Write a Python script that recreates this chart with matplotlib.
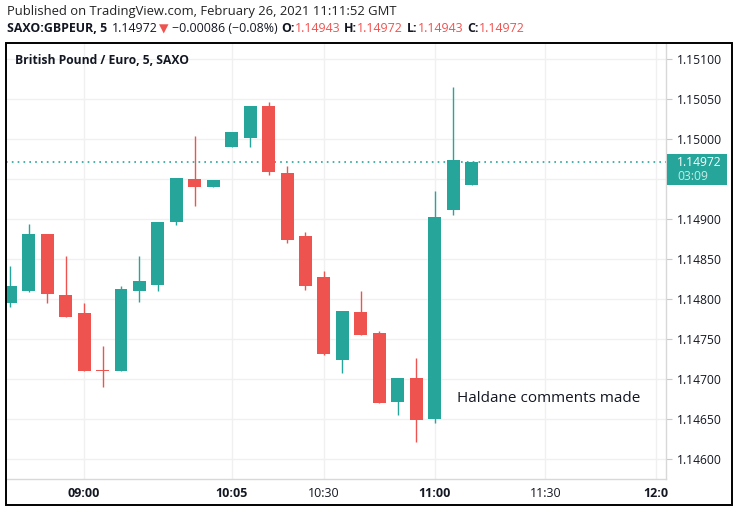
import matplotlib
matplotlib.use("Agg")
import matplotlib.pyplot as plt
from matplotlib.patches import Rectangle

# ----------------------------------------------------------------------
# Data: GBP/EUR 5-minute candles (SAXO)
# ----------------------------------------------------------------------
opens = [1.14796, 1.14810, 1.14882, 1.14806, 1.14783, 1.14712, 1.14710, 1.14811,
         1.14818, 1.14897, 1.14951, 1.14941, 1.14991, 1.15002, 1.15042, 1.14958,
         1.14879, 1.14828, 1.14724, 1.14784, 1.14758, 1.14672, 1.14702, 1.14651,
         1.14912, 1.14943]
highs = [1.14842, 1.14894, 1.14882, 1.14854, 1.14796, 1.14742, 1.14817, 1.14854,
         1.14897, 1.14952, 1.15004, 1.14949, 1.15009, 1.15042, 1.15047, 1.14967,
         1.14884, 1.14836, 1.14786, 1.14811, 1.14761, 1.14702, 1.14727, 1.14936,
         1.15066, 1.14972]
lows = [1.14791, 1.14809, 1.14795, 1.14778, 1.14711, 1.14691, 1.14710, 1.14797,
        1.14810, 1.14893, 1.14917, 1.14941, 1.14991, 1.14991, 1.14955, 1.14871,
        1.14812, 1.14731, 1.14708, 1.14756, 1.14670, 1.14655, 1.14622, 1.14646,
        1.14905, 1.14943]
closes = [1.14817, 1.14882, 1.14807, 1.14778, 1.14711, 1.14710, 1.14813, 1.14823,
          1.14897, 1.14952, 1.14941, 1.14949, 1.15009, 1.15042, 1.14959, 1.14874,
          1.14817, 1.14732, 1.14786, 1.14756, 1.14670, 1.14702, 1.14649, 1.14903,
          1.14974, 1.14972]

tick_index = [4, 12, 17, 23, 29, 35]
tick_labels = ["09:00", "10:05", "10:30", "11:00", "11:30", "12:0"]
tick_bold = [True, True, False, True, False, True]
price_ticks = [1.14600, 1.14650, 1.14700, 1.14750, 1.14800, 1.14850,
               1.14900, 1.14950, 1.15000, 1.15050, 1.15100]
last_price = 1.14972

UP = "#26a69a"
DOWN = "#ef5350"
TEXT = "#131722"
GRID = "#f0f0f0"
FONT = "Open Sans"

W, H = 738, 512
fig = plt.figure(figsize=(W / 100, H / 100), dpi=100)
plt.rcParams["font.family"] = [FONT, "DejaVu Sans"]


def fx(px):
    return px / W


def fy(py):
    return 1 - py / H


# plot area (pixels): x 6..666, y 43..479
ax = fig.add_axes([fx(6), fy(479), fx(666) - fx(6), fy(43) - fy(479)])
ax.set_xlim(-0.233, 35.54)
ax.set_ylim(1.145756, 1.151206)

# ----------------------------------------------------------------------
# Candles
# ----------------------------------------------------------------------
idx = list(range(len(opens)))
colors = [UP if c >= o else DOWN for o, c in zip(opens, closes)]
bottoms = [min(o, c) for o, c in zip(opens, closes)]
heights = [max(abs(c - o), 0.00002) for o, c in zip(opens, closes)]
ax.vlines(idx, lows, highs, colors=colors, linewidth=1.0, zorder=2)
ax.bar(idx, heights, bottom=bottoms, width=0.7, color=colors, linewidth=0, zorder=3)

# last price dotted line
ax.axhline(last_price, color=UP, linestyle=(0, (1, 2.5)), linewidth=1.2, zorder=1)

# grid and axes styling
ax.set_yticks(price_ticks)
ax.set_xticks(tick_index)
ax.grid(True, color=GRID, linewidth=1.0, zorder=0)
ax.set_axisbelow(True)
ax.yaxis.tick_right()
ax.set_yticklabels([f"{p:.5f}" for p in price_ticks])
ax.tick_params(axis="y", length=4, color="#c8c8c8", pad=4, labelsize=8.7, labelcolor=TEXT)
ax.set_xticklabels(tick_labels)
ax.tick_params(axis="x", length=0, pad=6, labelsize=9, labelcolor=TEXT)
for lab, b in zip(ax.get_xticklabels(), tick_bold):
    if b:
        lab.set_fontweight("bold")
# 1.14950 sits under the price tag, so it is not shown
for lab in ax.get_yticklabels():
    if lab.get_text() == "1.14950":
        lab.set_visible(False)
for s in ["left", "top"]:
    ax.spines[s].set_visible(False)
for s in ["right", "bottom"]:
    ax.spines[s].set_color("#d8d8d8")
    ax.spines[s].set_linewidth(1.0)

# outer frame
fig.add_artist(Rectangle((fx(6), fy(505)), fx(732) - fx(6), fy(43) - fy(505),
                         transform=fig.transFigure, fill=False,
                         edgecolor="black", linewidth=1.4, zorder=10))

# price tag on the right axis
fig.add_artist(Rectangle((fx(667), fy(185)), fx(727) - fx(667), fy(154) - fy(185),
                         transform=fig.transFigure, facecolor=UP,
                         edgecolor="none", zorder=11))
fig.text(fx(677), fy(162), "1.14972", color="white", fontsize=8.7,
         va="center", ha="left", zorder=12)
fig.text(fx(677), fy(177), "03:09", color="#c8ebe6", fontsize=8.7,
         va="center", ha="left", zorder=12)

# title inside plot
ax.text((15 - 6) / 660, (479 - 60) / 436, "British Pound / Euro, 5, SAXO",
        transform=ax.transAxes, fontsize=8.7, fontweight="bold", color=TEXT,
        va="center", ha="left")

# annotation
ax.text((457 - 6) / 660, (479 - 399) / 436, "Haldane comments made",
        transform=ax.transAxes, fontsize=11, color=TEXT, va="center", ha="left")

# ----------------------------------------------------------------------
# Header lines
# ----------------------------------------------------------------------
fig.text(fx(7), fy(11), "Published on TradingView.com, February 26, 2021 11:11:52 GMT",
         fontsize=9.4, color="#222222", va="center", ha="left")

renderer = fig.canvas.get_renderer()
parts = [
    ("SAXO:GBPEUR, 5", "bold", TEXT, 0),
    ("1.14972", "normal", TEXT, 5),
    ("\u25bc", "normal", DOWN, 1),
    ("\u22120.00086 (\u22120.08%)", "normal", TEXT, 3),
    ("O:", "bold", TEXT, 4),
    ("1.14943", "normal", DOWN, 0),
    ("H:", "bold", TEXT, 4),
    ("1.14972", "normal", DOWN, 0),
    ("L:", "bold", TEXT, 4),
    ("1.14943", "normal", DOWN, 0),
    ("C:", "bold", TEXT, 4),
    ("1.14972", "normal", DOWN, 0),
]
x = 7
for txt, weight, col, gap in parts:
    x += gap
    t = fig.text(fx(x), fy(29), txt, fontsize=8.9, fontweight=weight, color=col,
                 va="center", ha="left")
    x += t.get_window_extent(renderer).width

fig.savefig("out.png", dpi=100, facecolor="white")
